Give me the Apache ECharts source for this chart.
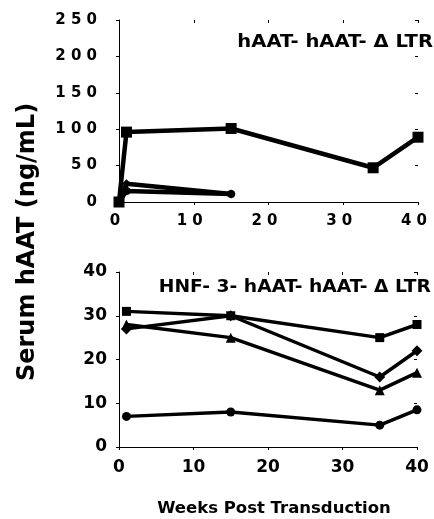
<!DOCTYPE html>
<html>
<head>
<meta charset="utf-8">
<script src="https://cdn.jsdelivr.net/npm/echarts@6/dist/echarts.min.js"></script>
<style>html,body{margin:0;padding:0;background:#fff}#c{width:434px;height:519px}</style>
</head>
<body>
<div id="c"></div>
<script>
// ---- data ----
const topWeeksA = [0, 1, 15, 34, 40];
const topSquare = [0, 96, 101, 47, 89];
const topWeeksB = [0, 1, 15];
const topDiamond = [0, 25, 11];
const topCircle = [0, 15, 11];

const bottomWeeks = [1, 15, 35, 40];
const bottomSquare = [31, 30, 25, 28];
const bottomDiamond = [27, 30, 16, 22];
const bottomTriangle = [28, 25, 13, 17];
const bottomCircle = [7, 8, 5, 8.5];

const topLabel = 'hAAT- hAAT- \u0394 LTR';
const bottomLabel = 'HNF- 3- hAAT- hAAT- \u0394 LTR';
const yTitle = 'Serum hAAT (ng/mL)';
const xTitle = 'Weeks Post Transduction';

const zip = (xs, ys) => xs.map((x, i) => [x, ys[i]]);
const spaced = v => String(v).split('').join(' ');
const FONT = '"DejaVu Sans", sans-serif';

function axisPair(grid, min, max, interval, fontSize, margin, fmt, padding) {
  const main = {
    type: 'value', gridIndex: grid, min: min, max: max, interval: interval,
    axisLine: { show: true, onZero: false, lineStyle: { color: '#000', width: 1 } },
    axisTick: { show: true, inside: false, length: 3, lineStyle: { color: '#000', width: 1 } },
    axisLabel: { show: true, color: '#000', fontFamily: FONT, fontWeight: 'bold', fontSize: fontSize, margin: margin, formatter: fmt, padding: padding || 0 },
    splitLine: { show: false }
  };
  const inner = {
    type: 'value', gridIndex: grid, min: min, max: max, interval: interval,
    axisLine: { show: false, onZero: false },
    axisTick: { show: true, inside: true, length: 3, lineStyle: { color: '#000', width: 1 } },
    axisLabel: { show: false },
    splitLine: { show: false }
  };
  return [main, inner];
}

const xa = [
  ...axisPair(0, 0, 40, 10, 15, 12, spaced, [0, 8, 0, 0]),
  ...axisPair(1, 0, 40, 10, 17, 12, v => String(v))
];
const ya = [
  ...axisPair(0, 0, 250, 50, 15, 22, spaced),
  ...axisPair(1, 0, 40, 10, 17, 12, v => String(v))
];

function line(data, xi, yi, symbol, size, width) {
  return {
    type: 'line', xAxisIndex: xi, yAxisIndex: yi, data: data,
    symbol: symbol, symbolSize: size, showSymbol: true,
    lineStyle: { color: '#000', width: width },
    itemStyle: { color: '#000', borderWidth: 0 },
    emphasis: { disabled: true }, animation: false, z: 3
  };
}

const chart = echarts.init(document.getElementById('c'), null, { renderer: 'canvas' });
chart.setOption({
  backgroundColor: '#fff',
  animation: false,
  grid: [
    { left: 119, top: 20, width: 299, height: 182 },
    { left: 119, top: 272, width: 298, height: 175 }
  ],
  xAxis: xa,
  yAxis: ya,
  series: [
    line(zip(topWeeksB, topDiamond), 0, 0, 'diamond', 9, 4.5),
    line(zip(topWeeksB, topCircle), 0, 0, 'circle', 8, 4.5),
    line(zip(topWeeksA, topSquare), 0, 0, 'rect', 11, 4.5),
    line(zip(bottomWeeks, bottomSquare), 2, 2, 'rect', 9, 3.5),
    line(zip(bottomWeeks, bottomDiamond), 2, 2, 'diamond', 11, 3.5),
    line(zip(bottomWeeks, bottomTriangle), 2, 2, 'triangle', 10, 3.5),
    line(zip(bottomWeeks, bottomCircle), 2, 2, 'circle', 9, 3.5)
  ],
  graphic: [
    { type: 'text', x: 28, y: 242, rotation: Math.PI / 2,
      style: { text: yTitle, font: 'bold 24px ' + FONT, fill: '#000', align: 'center', verticalAlign: 'middle' } },
    { type: 'text', x: 274, y: 509,
      style: { text: xTitle, font: 'bold 16.5px ' + FONT, fill: '#000', align: 'center', verticalAlign: 'middle' } },
    { type: 'text', x: 433, y: 43, scaleX: 1.15,
      style: { text: topLabel, font: 'bold 17px ' + FONT, fill: '#000', align: 'right', verticalAlign: 'middle' } },
    { type: 'text', x: 431, y: 288, scaleX: 1.1,
      style: { text: bottomLabel, font: 'bold 17px ' + FONT, fill: '#000', align: 'right', verticalAlign: 'middle' } }
  ]
});
</script>
</body>
</html>
